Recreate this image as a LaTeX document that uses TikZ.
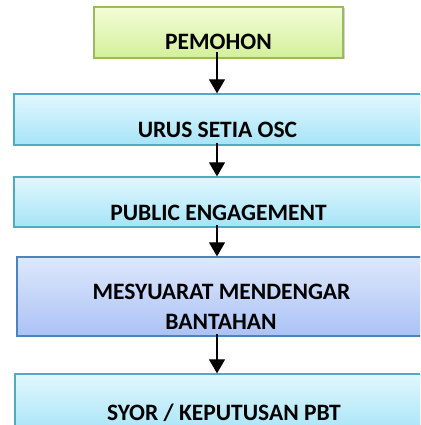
\documentclass[tikz,border=0pt]{standalone}
\usepackage{fontspec}
\setmainfont{Carlito}
\usetikzlibrary{arrows.meta,shadows}
\definecolor{gtop}{HTML}{F3FCD8}
\definecolor{gbot}{HTML}{D3F09A}
\definecolor{gline}{HTML}{9BBB59}
\definecolor{ctop}{HTML}{E2F7FD}
\definecolor{cbot}{HTML}{A6E4F7}
\definecolor{cline}{HTML}{4BACC6}
\definecolor{btop}{HTML}{DEE8FC}
\definecolor{bbot}{HTML}{AAC2F5}
\definecolor{bline}{HTML}{4F81BD}
\begin{document}
\begin{tikzpicture}[x=1pt,y=1pt,
  boxbase/.style={draw,line width=1.3pt,minimum height=#1,inner sep=0pt,
    drop shadow={shadow xshift=1.5pt,shadow yshift=-1.5pt,opacity=0.35}},
  greenbox/.style={boxbase=#1,draw=gline,top color=gtop,bottom color=gbot},
  cyanbox/.style={boxbase=#1,draw=cline,top color=ctop,bottom color=cbot},
  bluebox/.style={boxbase=#1,draw=bline,top color=btop,bottom color=bbot},
  lbl/.style={anchor=base,font=\fontsize{23.5}{28}\selectfont\bfseries,inner sep=0pt},
  arr/.style={line width=1.2pt,-{Triangle[length=14pt,width=16pt]}}]
\useasboundingbox (0,0) rectangle (420,425);
\clip (0,0) rectangle (420,425);
\node[greenbox=51pt,minimum width=249pt] (b1) at (218.5,392.5) {};
\node[cyanbox=51pt,minimum width=420pt] (b2) at (224,305.5) {};
\node[cyanbox=50pt,minimum width=420pt] (b3) at (224,223) {};
\node[bluebox=79pt,minimum width=420pt] (b4) at (227,128.5) {};
\node[cyanbox=60pt,minimum width=420pt] (b5) at (225,21) {};
\node[lbl] (t1) at (218.5,375) {PEMOHON};
\node[lbl] (t2) at (217.5,287) {URUS SETIA OSC};
\node[lbl] (t3) at (218.5,204) {PUBLIC ENGAGEMENT};
\node[lbl] (t4a) at (221.5,125) {MESYUARAT MENDENGAR};
\node[lbl] (t4b) at (221,95) {BANTAHAN};
\node[lbl] (t5) at (224,5) {SYOR / KEPUTUSAN PBT};
\coordinate (a1) at (217,373);
\coordinate (a2) at (217,282);
\coordinate (a3) at (217,200);
\coordinate (a4) at (217,91);
\draw[arr] (a1) -- (a1 |- b2.north);
\draw[arr] (a2) -- (a2 |- b3.north);
\draw[arr] (a3) -- (a3 |- b4.north);
\draw[arr] (a4) -- (a4 |- b5.north);
\end{tikzpicture}
\end{document}
